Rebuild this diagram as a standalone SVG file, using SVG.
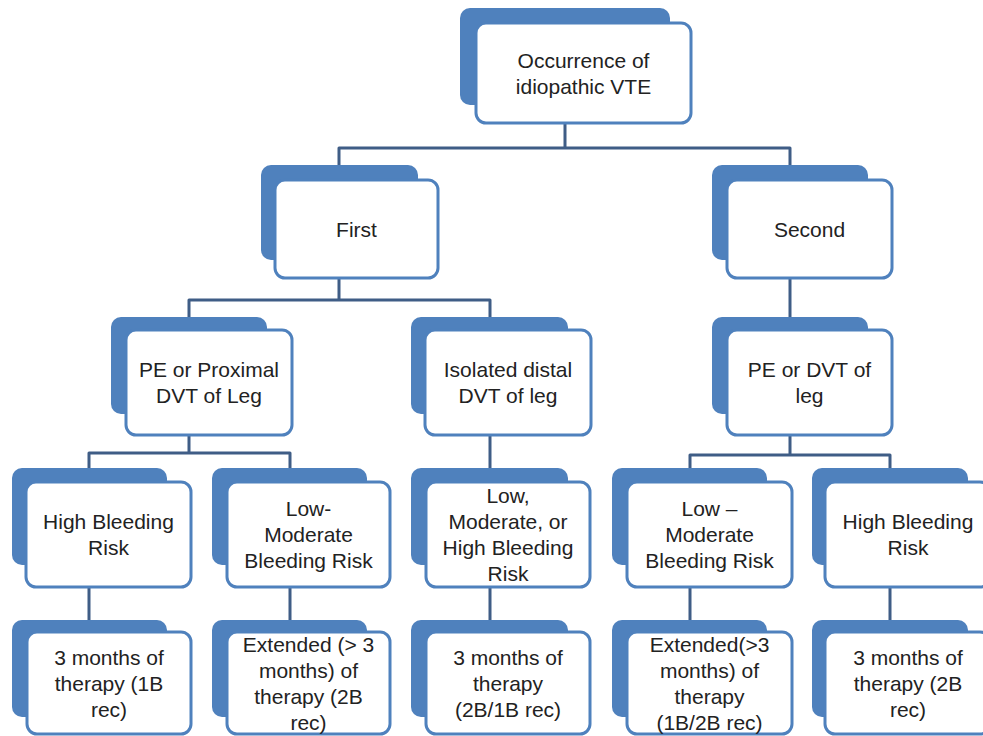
<svg xmlns="http://www.w3.org/2000/svg" width="983" height="736" viewBox="0 0 983 736">
<style>
.bk{fill:#4F81BD}
.fr{fill:#FFFFFF;stroke:#4F81BD;stroke-width:3}
.cn{fill:none;stroke:#3F5D86;stroke-width:3;stroke-linejoin:round}
text{font-family:"Liberation Sans",Arial,sans-serif;font-size:21px;fill:#222222;text-anchor:middle}
</style>
<rect width="983" height="736" fill="#FFFFFF"/>
<g id="connectors">
<path class="cn" d="M565 123 V148 M339 165 V148 H790 V165"/>
<path class="cn" d="M339 278 V300 M189 317 V300 H490 V317"/>
<path class="cn" d="M790 278 V317"/>
<path class="cn" d="M189 435 V453 M89 468 V453 H290 V468"/>
<path class="cn" d="M490 435 V468"/>
<path class="cn" d="M790 435 V455 M690 468 V455 H890 V468"/>
<path class="cn" d="M89 587 V620 M290 587 V620 M490 587 V620 M690 587 V620 M890 587 V620"/>
</g>
<g id="n_root">
<rect class="bk" x="460" y="8" width="210" height="97" rx="10"/>
<rect class="fr" x="476" y="23" width="215" height="100" rx="10"/>
<text x="583.5" y="68">Occurrence of</text>
<text x="583.5" y="94">idiopathic VTE</text>
</g>
<g id="n_first">
<rect class="bk" x="261" y="165" width="157" height="95" rx="10"/>
<rect class="fr" x="275" y="180" width="163" height="98" rx="10"/>
<text x="356.5" y="237">First</text>
</g>
<g id="n_second">
<rect class="bk" x="712" y="165" width="156" height="95" rx="10"/>
<rect class="fr" x="727" y="180" width="165" height="98" rx="10"/>
<text x="809.5" y="237">Second</text>
</g>
<g id="n_pe_prox">
<rect class="bk" x="111" y="317" width="156" height="97" rx="10"/>
<rect class="fr" x="126" y="330" width="166" height="105" rx="10"/>
<text x="209" y="377">PE or Proximal</text>
<text x="209" y="403">DVT of Leg</text>
</g>
<g id="n_isolated">
<rect class="bk" x="411" y="317" width="157" height="97" rx="10"/>
<rect class="fr" x="425" y="330" width="166" height="105" rx="10"/>
<text x="508" y="377">Isolated distal</text>
<text x="508" y="403">DVT of leg</text>
</g>
<g id="n_pe_dvt">
<rect class="bk" x="712" y="317" width="156" height="97" rx="10"/>
<rect class="fr" x="727" y="330" width="165" height="105" rx="10"/>
<text x="809.5" y="377">PE or DVT of</text>
<text x="809.5" y="403">leg</text>
</g>
<g id="n_high1">
<rect class="bk" x="12" y="468" width="155" height="97" rx="10"/>
<rect class="fr" x="26" y="482" width="165" height="105" rx="10"/>
<text x="108.5" y="529">High Bleeding</text>
<text x="108.5" y="555">Risk</text>
</g>
<g id="n_lowmod1">
<rect class="bk" x="212" y="468" width="155" height="97" rx="10"/>
<rect class="fr" x="227" y="482" width="163" height="105" rx="10"/>
<text x="308.5" y="516">Low-</text>
<text x="308.5" y="542">Moderate</text>
<text x="308.5" y="568">Bleeding Risk</text>
</g>
<g id="n_lowmodhigh">
<rect class="bk" x="411" y="468" width="157" height="97" rx="10"/>
<rect class="fr" x="426" y="482" width="164" height="105" rx="10"/>
<text x="508" y="503">Low,</text>
<text x="508" y="529">Moderate, or</text>
<text x="508" y="555">High Bleeding</text>
<text x="508" y="581">Risk</text>
</g>
<g id="n_lowmod2">
<rect class="bk" x="612" y="468" width="155" height="97" rx="10"/>
<rect class="fr" x="627" y="482" width="165" height="105" rx="10"/>
<text x="709.5" y="516">Low –</text>
<text x="709.5" y="542">Moderate</text>
<text x="709.5" y="568">Bleeding Risk</text>
</g>
<g id="n_high2">
<rect class="bk" x="812" y="468" width="156" height="97" rx="10"/>
<rect class="fr" x="825" y="482" width="165" height="105" rx="10"/>
<text x="908" y="529">High Bleeding</text>
<text x="908" y="555">Risk</text>
</g>
<g id="n_t1">
<rect class="bk" x="12" y="620" width="155" height="97" rx="10"/>
<rect class="fr" x="27" y="632" width="164" height="102" rx="10"/>
<text x="109" y="665">3 months of</text>
<text x="109" y="691">therapy (1B</text>
<text x="109" y="717">rec)</text>
</g>
<g id="n_t2">
<rect class="bk" x="212" y="620" width="155" height="97" rx="10"/>
<rect class="fr" x="227" y="632" width="163" height="102" rx="10"/>
<text x="308.5" y="652">Extended (&gt; 3</text>
<text x="308.5" y="678">months) of</text>
<text x="308.5" y="704">therapy (2B</text>
<text x="308.5" y="730">rec)</text>
</g>
<g id="n_t3">
<rect class="bk" x="411" y="620" width="157" height="97" rx="10"/>
<rect class="fr" x="426" y="632" width="164" height="102" rx="10"/>
<text x="508" y="665">3 months of</text>
<text x="508" y="691">therapy</text>
<text x="508" y="717">(2B/1B rec)</text>
</g>
<g id="n_t4">
<rect class="bk" x="612" y="620" width="155" height="97" rx="10"/>
<rect class="fr" x="627" y="632" width="165" height="102" rx="10"/>
<text x="709.5" y="652">Extended(&gt;3</text>
<text x="709.5" y="678">months) of</text>
<text x="709.5" y="704">therapy</text>
<text x="709.5" y="730">(1B/2B rec)</text>
</g>
<g id="n_t5">
<rect class="bk" x="812" y="620" width="156" height="97" rx="10"/>
<rect class="fr" x="825" y="632" width="165" height="102" rx="10"/>
<text x="908" y="665">3 months of</text>
<text x="908" y="691">therapy (2B</text>
<text x="908" y="717">rec)</text>
</g>
</svg>
